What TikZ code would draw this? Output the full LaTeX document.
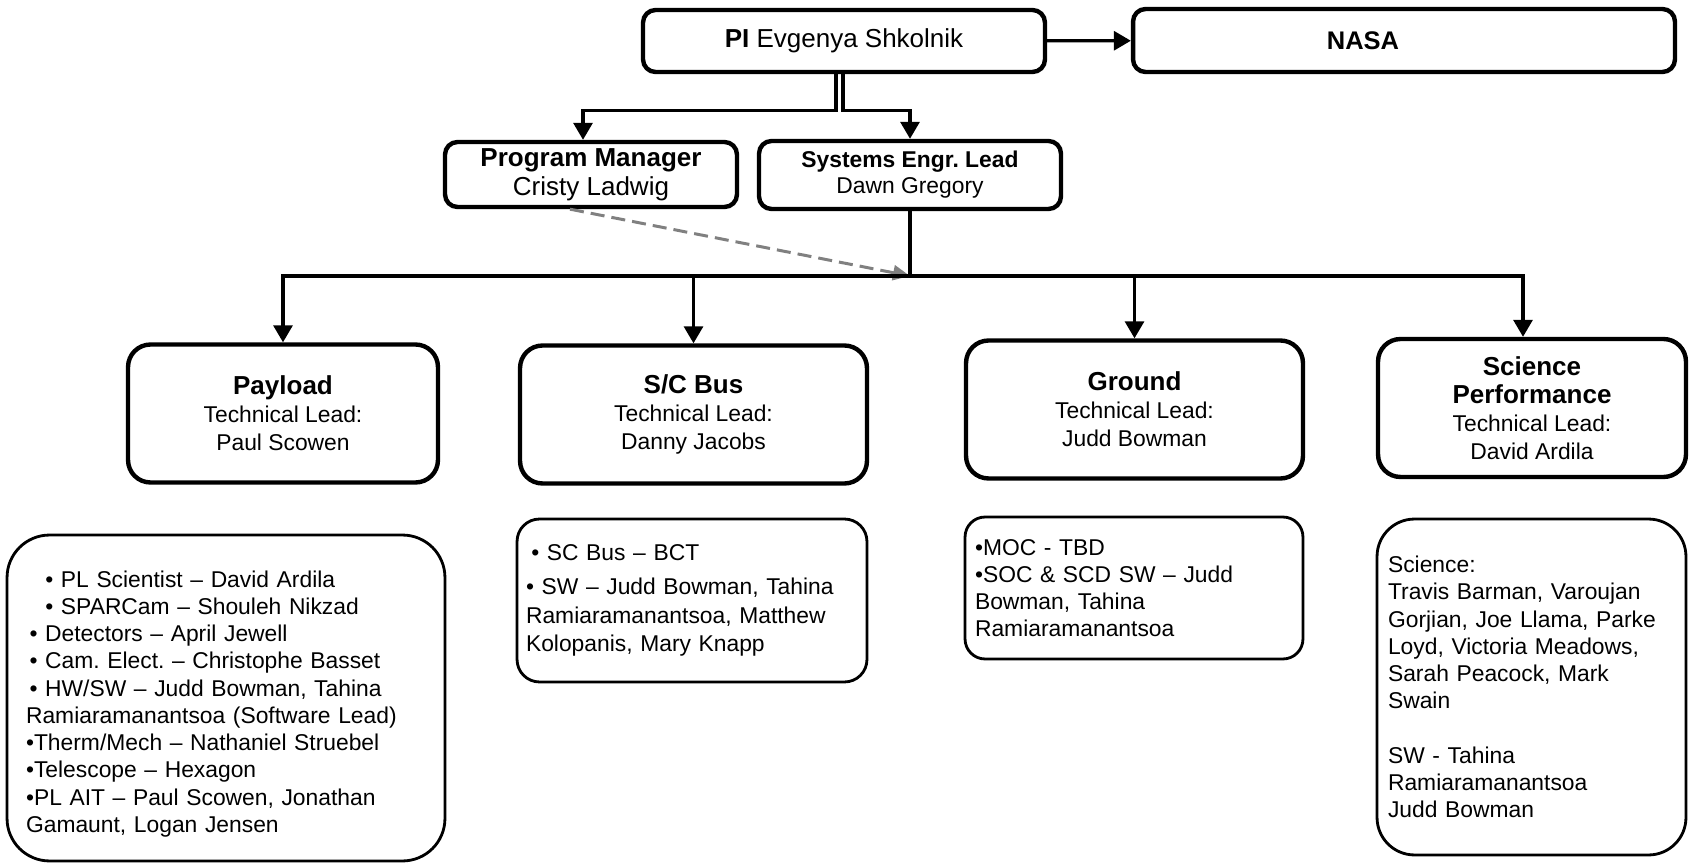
\documentclass[tikz,border=0pt]{standalone}
\usepackage{fontspec}
\setmainfont{Liberation Sans}
\usetikzlibrary{arrows.meta, calc, positioning}
\frenchspacing

\newcommand{\ttl}[1]{{\fontsize{14.8}{16}\selectfont\bfseries #1}}

\begin{document}
\begin{tikzpicture}
		[x=0.02cm, y=-0.02cm,
		font=\fontsize{13}{15.5}\selectfont,
		tip/.style = {-{Triangle[length=0.34cm, width=0.38cm]}},
		conn/.style = {draw=black, line width=1.8pt},
		lead/.style = {draw=black, line width=2.5pt, rounded corners=0.25cm, align=center, inner sep=2pt},
		team/.style = {draw=black, line width=2.5pt, rounded corners=0.45cm, align=center, minimum height=2.76cm, font=\fontsize{13}{16}\selectfont},
		lst/.style = {draw=black, line width=1.6pt, align=left, inner sep=0pt},
		gdash/.style = {draw=gray, line width=1.7pt, dash pattern=on 8pt off 4pt, -{Triangle[length=0.34cm, width=0.3cm]}}]
		
		\useasboundingbox (0,0) rectangle (1690,864);
		
		\node[lead, minimum width=8.04cm, minimum height=1.24cm, font=\fontsize{14.8}{16}\selectfont] (pi) at (844,41) {\textbf{PI} Evgenya Shkolnik};
		\node[lead, minimum width=10.84cm, minimum height=1.26cm, font=\fontsize{14.5}{16}\selectfont\bfseries] (nasa) at (1404,40.5) {\hspace*{-1.64cm}NASA};
		\node[lead, minimum width=5.84cm, minimum height=1.30cm, font=\fontsize{14.8}{16.5}\selectfont] (pm) at (591,174.5) {\textbf{Program Manager}\\Cristy Ladwig};
		\node[lead, minimum width=6.04cm, minimum height=1.36cm, font=\fontsize{13}{14.8}\selectfont] (se) at (910,175) {\textbf{Systems Engr. Lead}\\Dawn Gregory};
		
		\foreach \x/\y/\w/\alph/\txt in {
			283/413.5/6.2/payload/{\ttl{Payload}\\Technical Lead:\\Paul Scowen},
			693.5/414.5/6.94/scbus/{\ttl{S/C Bus}\\Technical Lead:\\Danny Jacobs},
			1134.5/409.5/6.74/ground/{\ttl{Ground}\\Technical Lead:\\Judd Bowman},
			1532/408/6.16/science/{\ttl{Science}\\\ttl{Performance}\\Technical Lead:\\David Ardila}}{
			\node[team, minimum width=\w cm] (\alph) at (\x,\y) {\txt};
		}
		
		\node[lst, rounded corners=0.85cm, minimum width=8.76cm, minimum height=6.52cm, text width=8.0cm] (plist) at (226,698) {%
			\rule{0pt}{16pt}\hspace*{11pt}• PL Scientist – David Ardila\\
			\hspace*{11pt}• SPARCam – Shouleh Nikzad\\
			\hspace*{2pt}• Detectors – April Jewell\\
			\hspace*{2pt}• Cam. Elect. – Christophe Basset\\
			\hspace*{2pt}• HW/SW – Judd Bowman, Tahina\\
			Ramiaramanantsoa (Software Lead)\\
			•Therm/Mech – Nathaniel Struebel\\
			•Telescope – Hexagon\\
			•PL AIT – Paul Scowen, Jonathan\\
			Gamaunt, Logan Jensen};
		\node[lst, rounded corners=0.45cm, minimum width=7.0cm, minimum height=3.26cm, text width=6.64cm, font=\fontsize{13}{16.3}\selectfont] (sclist) at (692,600.5) {%
			\hspace*{3pt}• SC Bus – BCT\\[3pt]
			• SW – Judd Bowman, Tahina\\
			Ramiaramanantsoa, Matthew\\
			Kolopanis, Mary Knapp};
		\node[lst, rounded corners=0.4cm, minimum width=6.76cm, minimum height=2.84cm, text width=6.36cm] (grlist) at (1134,588) {%
			•MOC - TBD\\
			•SOC \& SCD SW – Judd\\
			Bowman, Tahina\\
			Ramiaramanantsoa};
		\node[lst, rounded corners=0.75cm, minimum width=6.18cm, minimum height=6.72cm, text width=5.74cm] (scilist) at (1531.5,687) {%
			Science:\\
			Travis Barman, Varoujan\\
			Gorjian, Joe Llama, Parke\\
			Loyd, Victoria Meadows,\\
			Sarah Peacock, Mark\\
			Swain\\[15.5pt]
			SW - Tahina\\
			Ramiaramanantsoa\\
			Judd Bowman};
		
		\coordinate (bus) at (910,276);
		
		\draw[conn, tip] (pi) -- (nasa);
		\draw[conn, tip] ($(pi.south)+(-8,0)$) -- ++(0,36) -| ($(pm.north)+(-8,0)$);
		\draw[conn, tip] ($(pi.south)+(-1,0)$) -- ++(0,36) -| (se.north);
		\draw[conn] (se) -- (bus);
		\draw[gdash] ($(pm.south)+(-21,0)$) -- (bus);
		\foreach \target in {payload, scbus, ground}{
			\draw[conn, tip] (bus) -| (\target.north);}
		\draw[conn, tip] (bus) -| ($(science.north)+(-9,0)$);
	\end{tikzpicture}
\end{document}
